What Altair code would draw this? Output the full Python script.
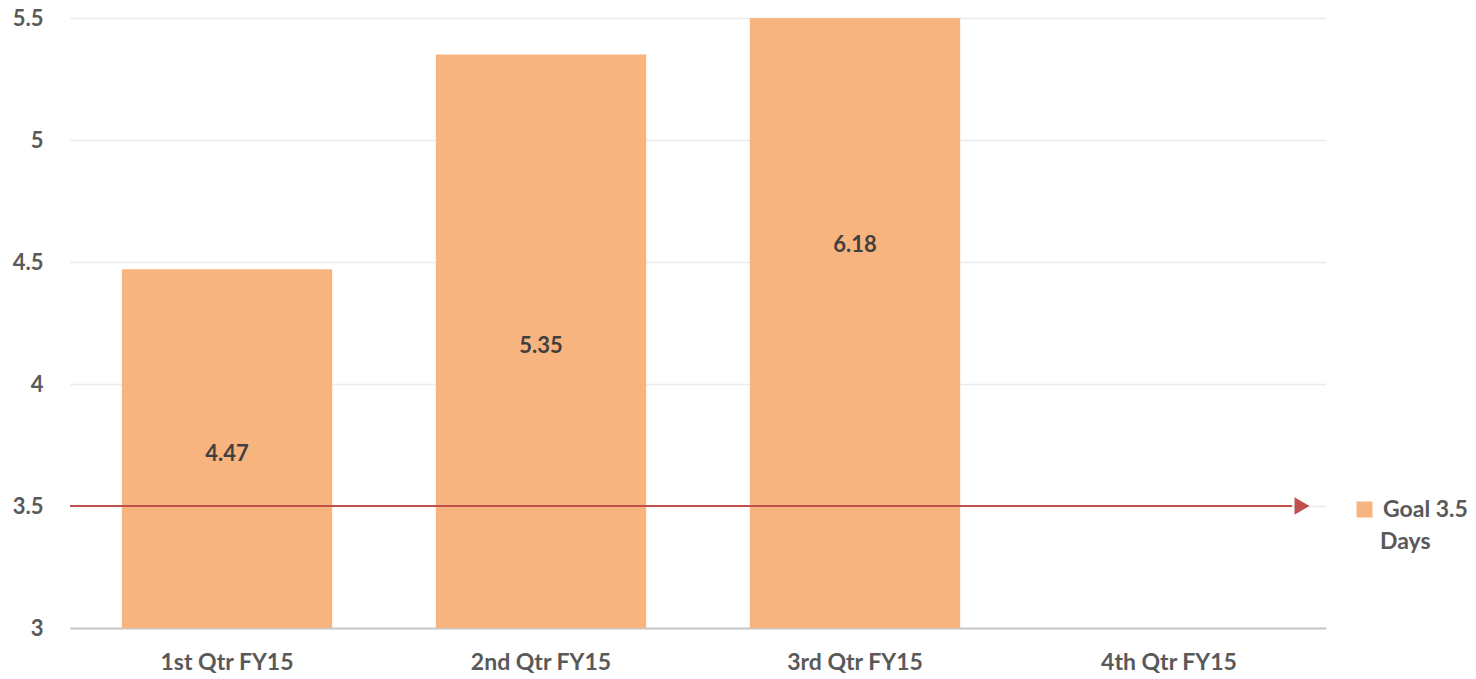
import altair as alt
import pandas as pd

# Average days per quarter
quarters = ["1st Qtr FY15", "2nd Qtr FY15", "3rd Qtr FY15", "4th Qtr FY15"]
days = [4.47, 5.35, 6.18, None]
series_name = "Goal 3.5 Days"
goal = 3.5
y_min, y_max = 3, 5.5
y_ticks = [3, 3.5, 4, 4.5, 5, 5.5]

W, H = 1256, 610
FONT = "Lato"
GREY = "#595959"
BAR = "#f8b47e"
GOAL_RED = "#c0504d"

df = pd.DataFrame({"quarter": quarters, "days": days, "series": series_name})
df["base"] = y_min

x_scale = alt.Scale(domain=quarters, paddingInner=0.33, paddingOuter=0.165)
x_enc = alt.X(
    "quarter:N",
    scale=x_scale,
    axis=alt.Axis(
        title=None, labelAngle=0, ticks=False, domain=True,
        domainColor="#c8c8c8", domainWidth=2,
        labelFont=FONT, labelFontSize=23, labelFontWeight="bold",
        labelColor=GREY, labelPadding=23, grid=False,
    ),
)
y_scale = alt.Scale(domain=[y_min, y_max], zero=False, nice=False)

base = alt.Chart(df)

bars = base.transform_filter("isValid(datum.days)").mark_bar(clip=True, color=BAR).encode(
    x=x_enc,
    y=alt.Y(
        "days:Q", scale=y_scale,
        axis=alt.Axis(
            title=None, values=y_ticks, ticks=False, domain=False,
            grid=True, gridColor="#ebebeb", gridWidth=1.5,
            labelFont=FONT, labelFontSize=22, labelFontWeight="bold",
            labelColor=GREY, labelPadding=27,
            labelExpr="format(datum.value, '.2~f')",
        ),
    ),
    y2="base:Q",
    color=alt.Color(
        "series:N",
        scale=alt.Scale(range=[BAR]),
        legend=alt.Legend(
            title=None, orient="none", legendX=1283, legendY=480,
            symbolType="square", symbolSize=256, symbolStrokeWidth=0,
            labelFont=FONT, labelFontSize=23, labelFontWeight="bold",
            labelColor=GREY, labelOffset=7,
            labelExpr="split(datum.label, ' D')[0]",
        ),
    ),
)

# Value labels sit at the middle of each full bar
labels = base.transform_filter("isValid(datum.days)").transform_calculate(
    mid=f"({y_min} + datum.days) / 2"
).mark_text(
    font=FONT, fontSize=22, fontWeight="bold", color="#404040", baseline="middle", dy=5
).encode(
    x=alt.X("quarter:N", scale=x_scale),
    y=alt.Y("mid:Q", scale=y_scale),
    text=alt.Text("days:Q", format=".2f"),
)

# Second line of the legend label
legend_line2 = alt.Chart(pd.DataFrame({"t": ["Days"]})).mark_text(
    font=FONT, fontSize=23, fontWeight="bold", color=GREY, align="left", baseline="middle"
).encode(x=alt.value(1310), y=alt.value(524), text="t:N")

goal_df = pd.DataFrame({"goal": [goal]})
goal_line = alt.Chart(goal_df).mark_rule(color=GOAL_RED, strokeWidth=2).encode(
    y=alt.Y("goal:Q", scale=y_scale),
    x=alt.value(0),
    x2=alt.value(W - 34),
)
goal_arrow = alt.Chart(goal_df).mark_point(
    shape="triangle-right", filled=True, color=GOAL_RED, size=300, opacity=1
).encode(
    y=alt.Y("goal:Q", scale=y_scale),
    x=alt.value(W - 24),
)

chart = alt.layer(bars, labels, goal_line, goal_arrow, legend_line2).resolve_scale(
    y="shared"
).properties(
    width=W, height=H,
    autosize=alt.AutoSizeParams(type="none"),
    padding={"left": 70, "top": 18, "right": 150, "bottom": 51},
    background="white",
).configure_view(stroke=None)

chart.save("out.html", embed_options={"renderer": "svg", "actions": False})
